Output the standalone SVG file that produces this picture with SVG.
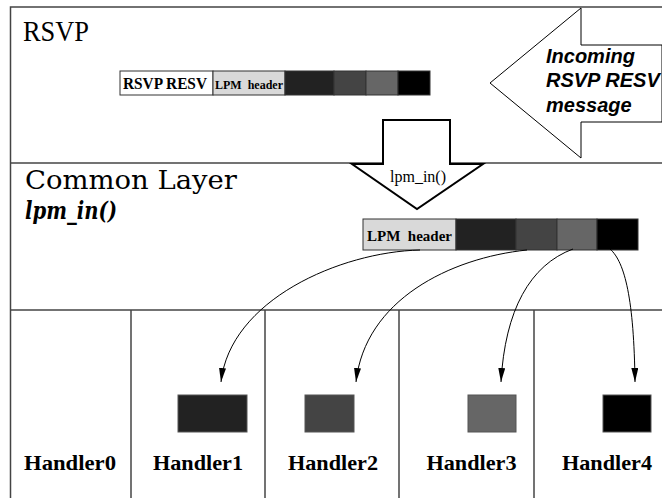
<svg xmlns="http://www.w3.org/2000/svg" width="662" height="498" viewBox="0 0 662 498">
<style>
.frame{fill:none;stroke:#444;stroke-width:1.5}
.seg{stroke:#333;stroke-width:1}
.hbox{stroke:#555;stroke-width:1}
.bigarrow{fill:#fff;stroke:#000;stroke-width:1}
.downarrow{fill:#fff;stroke:#000;stroke-width:2}
.conn{fill:none;stroke:#000;stroke-width:1;marker-end:url(#ah)}
.serif{font-family:"Liberation Serif","Times New Roman",serif}
.bold{font-weight:bold}
.handler{font-family:"Liberation Serif","Times New Roman",serif;font-weight:bold;font-size:22px;text-anchor:middle}
.incoming{font-family:"Liberation Sans",Arial,sans-serif;font-weight:bold;font-style:italic;font-size:20px}
.layer{font-family:"DejaVu Serif",serif}
</style>
<defs>
<marker id="ah" markerUnits="userSpaceOnUse" markerWidth="14" markerHeight="8" refX="14" refY="3.5" orient="auto">
<path d="M0,0 L14,3.5 L0,7 z" fill="#000"/>
</marker>
</defs>
<g id="frame">
<path class="frame" d="M662,7 H10.5 V498"/>
<line class="frame" x1="10" y1="163" x2="662" y2="163" stroke="#555"/>
<line class="frame" x1="10" y1="310" x2="662" y2="310"/>
<line class="frame" x1="131" y1="310" x2="131" y2="498" stroke="#777"/>
<line class="frame" x1="265" y1="310" x2="265" y2="498" stroke="#222"/>
<line class="frame" x1="399" y1="310" x2="399" y2="498" stroke="#777"/>
<line class="frame" x1="534" y1="310" x2="534" y2="498" stroke="#222"/>
</g>
<g id="rsvp-layer">
<text class="serif" x="23" y="41" font-size="30" textLength="66" lengthAdjust="spacingAndGlyphs">RSVP</text>
</g>
<g id="incoming-arrow">
<polygon class="bigarrow" points="662,45 581,45 581,8 490,83 581,158 581,122 662,122"/>
<text class="incoming" x="546" y="63">Incoming</text>
<text class="incoming" x="546" y="87">RSVP RESV</text>
<text class="incoming" x="546" y="112">message</text>
</g>
<g id="rsvp-packet">
<rect class="seg" x="120" y="71" width="93" height="24" fill="#fff"/>
<rect class="seg" x="213" y="71" width="72" height="24" fill="#d9d9d9"/>
<rect class="seg" x="285" y="71" width="49" height="24" fill="#222"/>
<rect class="seg" x="334" y="71" width="32" height="24" fill="#444"/>
<rect class="seg" x="366" y="71" width="32" height="24" fill="#666"/>
<rect class="seg" x="398" y="71" width="32" height="24" fill="#000"/>
<text class="serif bold" x="123" y="89" font-size="16.5" textLength="84" lengthAdjust="spacingAndGlyphs">RSVP RESV</text>
<text class="serif bold" x="215" y="88.5" font-size="12" textLength="68" lengthAdjust="spacingAndGlyphs" xml:space="preserve">LPM  header</text>
</g>
<g id="lpm-in-arrow">
<polygon class="downarrow" points="383,120 450,120 450,164 483,164 417,209 352,164 383,164"/>
<text class="serif" x="418" y="182" font-size="16" text-anchor="middle">lpm_in()</text>
</g>
<g id="common-layer">
<text class="layer" x="25" y="189" font-size="26" textLength="212" lengthAdjust="spacingAndGlyphs">Common Layer</text>
<text class="layer" x="25" y="219" font-size="25" font-weight="bold" font-style="italic" textLength="92" lengthAdjust="spacingAndGlyphs">lpm_in()</text>
</g>
<g id="lpm-packet">
<rect class="seg" x="363" y="219" width="93" height="31" fill="#d9d9d9"/>
<rect class="seg" x="456" y="219" width="60" height="31" fill="#222"/>
<rect class="seg" x="516" y="219" width="41" height="31" fill="#444"/>
<rect class="seg" x="557" y="219" width="40" height="31" fill="#666"/>
<rect class="seg" x="597" y="219" width="41" height="31" fill="#000"/>
<text class="serif bold" x="367" y="241" font-size="14" textLength="85" lengthAdjust="spacingAndGlyphs" xml:space="preserve">LPM  header</text>
</g>
<g id="handler0">
<text class="handler" x="70" y="470" textLength="92" lengthAdjust="spacingAndGlyphs">Handler0</text>
</g>
<g id="handler1">
<rect class="hbox" x="178" y="395" width="69" height="37" fill="#222"/>
<text class="handler" x="198" y="470" textLength="90" lengthAdjust="spacingAndGlyphs">Handler1</text>
</g>
<g id="handler2">
<rect class="hbox" x="305" y="395" width="49" height="37" fill="#444"/>
<text class="handler" x="333" y="470" textLength="90" lengthAdjust="spacingAndGlyphs">Handler2</text>
</g>
<g id="handler3">
<rect class="hbox" x="468" y="395" width="48" height="37" fill="#666"/>
<text class="handler" x="471.5" y="470" textLength="90" lengthAdjust="spacingAndGlyphs">Handler3</text>
</g>
<g id="handler4">
<rect class="hbox" x="603" y="395" width="48" height="37" fill="#000"/>
<text class="handler" x="607" y="470" textLength="90" lengthAdjust="spacingAndGlyphs">Handler4</text>
</g>
<g id="connectors">
<path class="conn" d="M420,250 C340,252 230,300 221,382"/>
<path class="conn" d="M527,250 C450,258 365,300 356,382"/>
<path class="conn" d="M573,249 C530,265 505,310 501,382"/>
<path class="conn" d="M610,249 C625,262 634,300 635,382"/>
</g>
</svg>
